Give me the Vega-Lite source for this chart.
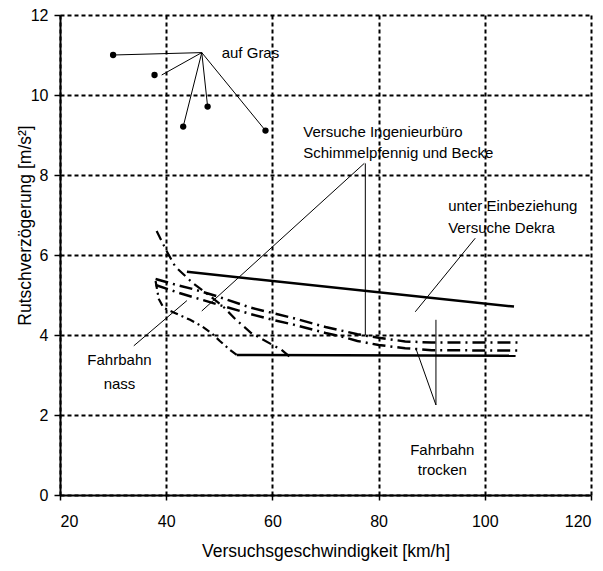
{
  "$schema": "https://vega.github.io/schema/vega-lite/v6.json",
  "width": 531,
  "height": 480,
  "autosize": "none",
  "padding": {"left": 60, "top": 15, "right": 12, "bottom": 76},
  "background": "white",
  "config": {
    "font": "Liberation Sans",
    "view": {"stroke": null},
    "axis": {
      "domainColor": "black", "domainWidth": 2,
      "tickColor": "black", "tickWidth": 1.5,
      "labelColor": "black", "titleColor": "black",
      "labelFont": "Liberation Sans", "titleFont": "Liberation Sans",
      "labelFontSize": 16, "titleFontSize": 17.5, "titleFontWeight": "normal",
      "grid": true, "gridColor": "black", "gridDash": [4, 3], "gridWidth": 2, "gridOpacity": 1
    }
  },
  "datasets": {
    "curves": [
      {"s": "solidU", "x": 43.9, "y": 5.58}, {"s": "solidU", "x": 105.5, "y": 4.71},
      {"s": "solidL", "x": 53.3, "y": 3.5}, {"s": "solidL", "x": 105.8, "y": 3.48},
      {"s": "U", "x": 38, "y": 5.4}, {"s": "U", "x": 42, "y": 5.25}, {"s": "U", "x": 45, "y": 5.15}, {"s": "U", "x": 50, "y": 4.95}, {"s": "U", "x": 56, "y": 4.68}, {"s": "U", "x": 60, "y": 4.55}, {"s": "U", "x": 64, "y": 4.42}, {"s": "U", "x": 70, "y": 4.2}, {"s": "U", "x": 76, "y": 4.02}, {"s": "U", "x": 80, "y": 3.93}, {"s": "U", "x": 85, "y": 3.84}, {"s": "U", "x": 90, "y": 3.81}, {"s": "U", "x": 106.5, "y": 3.81},
      {"s": "L", "x": 38, "y": 5.25}, {"s": "L", "x": 42, "y": 5.07}, {"s": "L", "x": 45, "y": 4.95}, {"s": "L", "x": 50, "y": 4.75}, {"s": "L", "x": 56, "y": 4.52}, {"s": "L", "x": 60, "y": 4.38}, {"s": "L", "x": 64, "y": 4.26}, {"s": "L", "x": 70, "y": 4.05}, {"s": "L", "x": 73.4, "y": 3.95}, {"s": "L", "x": 76, "y": 3.85}, {"s": "L", "x": 80, "y": 3.75}, {"s": "L", "x": 85, "y": 3.67}, {"s": "L", "x": 90, "y": 3.62}, {"s": "L", "x": 106.5, "y": 3.61},
      {"s": "S3", "x": 38.2, "y": 6.6}, {"s": "S3", "x": 40, "y": 6.12}, {"s": "S3", "x": 41.7, "y": 5.71}, {"s": "S3", "x": 45, "y": 5.3}, {"s": "S3", "x": 48.4, "y": 4.96}, {"s": "S3", "x": 50.8, "y": 4.7}, {"s": "S3", "x": 53, "y": 4.4}, {"s": "S3", "x": 56, "y": 4.05}, {"s": "S3", "x": 59.5, "y": 3.79}, {"s": "S3", "x": 61.7, "y": 3.63}, {"s": "S3", "x": 63.8, "y": 3.4},
      {"s": "N", "x": 38, "y": 5.35}, {"s": "N", "x": 38.6, "y": 4.9}, {"s": "N", "x": 39.5, "y": 4.68}, {"s": "N", "x": 41.3, "y": 4.57}, {"s": "N", "x": 44.5, "y": 4.38}, {"s": "N", "x": 46.7, "y": 4.22}, {"s": "N", "x": 48.6, "y": 4.04}, {"s": "N", "x": 50.1, "y": 3.85}, {"s": "N", "x": 52, "y": 3.63}, {"s": "N", "x": 53.3, "y": 3.5}
    ],
    "pts": [
      {"x": 30, "y": 11.0}, {"x": 37.8, "y": 10.5}, {"x": 43.2, "y": 9.21}, {"x": 47.8, "y": 9.71}, {"x": 58.7, "y": 9.11}
    ],
    "ptr": [
      {"x": 46.7, "y": 11.06, "x2": 30, "y2": 11.0},
      {"x": 46.7, "y": 11.06, "x2": 39.15, "y2": 10.5},
      {"x": 46.7, "y": 11.06, "x2": 43.2, "y2": 9.21},
      {"x": 46.7, "y": 11.06, "x2": 47.8, "y2": 9.71},
      {"x": 46.7, "y": 11.06, "x2": 58.7, "y2": 9.11},
      {"x": 77.3, "y": 8.29, "x2": 46.7, "y2": 4.6},
      {"x": 77.5, "y": 8.29, "x2": 77.5, "y2": 4.0},
      {"x": 33.9, "y": 3.73, "x2": 43.9, "y2": 4.86},
      {"x": 98.2, "y": 6.42, "x2": 86.9, "y2": 4.58},
      {"x": 90.8, "y": 4.38, "x2": 90.8, "y2": 2.25},
      {"x": 87.0, "y": 3.67, "x2": 90.8, "y2": 2.25}
    ],
    "txtL": [
      {"t": "auf Gras", "x": 50.45, "y": 11.06},
      {"t": "Versuche Ingenieurbüro", "x": 65.8, "y": 9.08},
      {"t": "Schimmelpfennig und Becke", "x": 65.8, "y": 8.54},
      {"t": "unter Einbeziehung", "x": 93.1, "y": 7.22},
      {"t": "Versuche Dekra", "x": 93.1, "y": 6.67}
    ],
    "txtC": [
      {"t": "Fahrbahn", "x": 31.2, "y": 3.375},
      {"t": "nass", "x": 31.2, "y": 2.775},
      {"t": "Fahrbahn", "x": 92, "y": 1.125},
      {"t": "trocken", "x": 92, "y": 0.625}
    ]
  },
  "encoding": {
    "x": {"field": "x", "type": "quantitative",
      "scale": {"domain": [20, 120], "nice": false, "zero": false},
      "axis": {"values": [20, 40, 60, 80, 100, 120], "title": "Versuchsgeschwindigkeit [km/h]", "tickSize": 5, "labelPadding": 13, "titleY": 47}},
    "y": {"field": "y", "type": "quantitative",
      "scale": {"domain": [0, 12], "nice": false, "zero": false},
      "axis": {"values": [0, 2, 4, 6, 8, 10, 12], "title": "Rutschverzögerung [m/s²]", "tickSize": 6, "labelPadding": 6, "titleX": -26, "titleY": 210}}
  },
  "layer": [
    {"data": {"name": "curves"}, "transform": [{"filter": "datum.s === 'solidU' || datum.s === 'solidL'"}],
     "mark": {"type": "line", "color": "black", "strokeWidth": 2.5}, "encoding": {"detail": {"field": "s"}}},
    {"data": {"name": "curves"}, "transform": [{"filter": "datum.s === 'U' || datum.s === 'L'"}],
     "mark": {"type": "line", "color": "black", "strokeWidth": 2.5, "strokeDash": [13, 5, 2, 5]}, "encoding": {"detail": {"field": "s"}}},
    {"data": {"name": "curves"}, "transform": [{"filter": "datum.s === 'S3'"}],
     "mark": {"type": "line", "color": "black", "strokeWidth": 2.2, "strokeDash": [10, 5, 2, 5]}, "encoding": {}},
    {"data": {"name": "curves"}, "transform": [{"filter": "datum.s === 'N'"}],
     "mark": {"type": "line", "color": "black", "strokeWidth": 2.2, "strokeDash": [8, 4, 2, 4]}, "encoding": {}},
    {"data": {"name": "ptr"}, "mark": {"type": "rule", "color": "black", "strokeWidth": 1},
     "encoding": {"x2": {"field": "x2"}, "y2": {"field": "y2"}}},
    {"data": {"name": "pts"}, "mark": {"type": "circle", "color": "black", "opacity": 1, "size": 40}, "encoding": {}},
    {"data": {"name": "txtL"}, "mark": {"type": "text", "align": "left", "baseline": "middle", "fontSize": 15, "color": "black", "font": "Liberation Sans"},
     "encoding": {"text": {"field": "t"}}},
    {"data": {"name": "txtC"}, "mark": {"type": "text", "align": "center", "baseline": "middle", "fontSize": 15, "color": "black", "font": "Liberation Sans"},
     "encoding": {"text": {"field": "t"}}}
  ]
}
